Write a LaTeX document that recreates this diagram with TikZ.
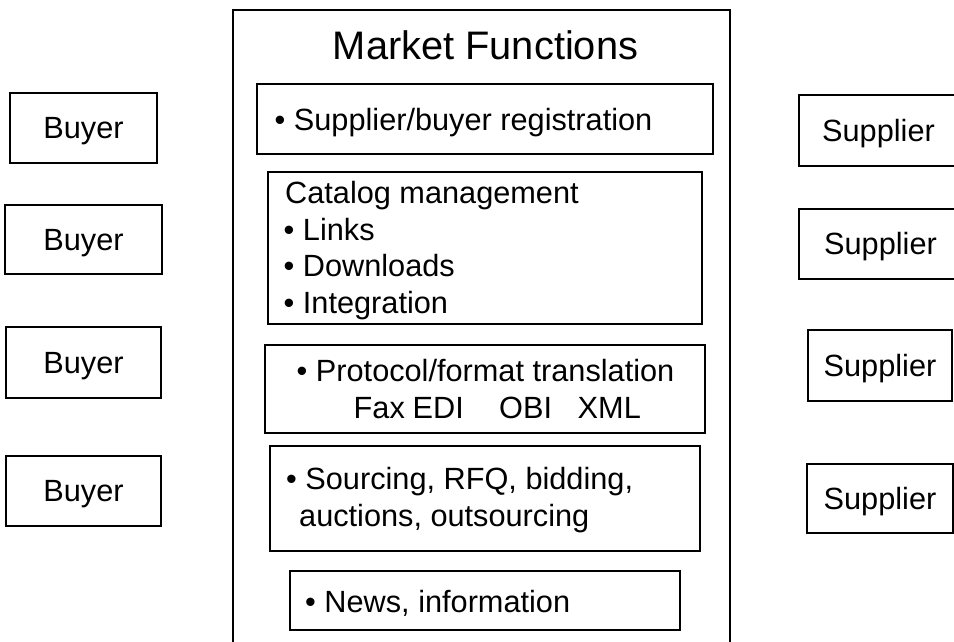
\documentclass[tikz,border=0pt]{standalone}
\usepackage{fontspec}
\setmainfont{Liberation Sans}
\newcommand{\bodyfont}{\fontsize{30.7}{36.5}\selectfont}
\begin{document}
\begin{tikzpicture}[x=1pt,y=-1pt,
  party/.style={draw, line width=1.6pt, inner sep=0pt, font=\bodyfont, text height=21.5pt, text depth=0pt},
  funcbox/.style={draw, line width=1.6pt, inner sep=0pt},
  frame/.style={draw, line width=1.8pt},
  txt/.style={anchor=base west, inner sep=0pt, font=\bodyfont, align=left},
]
\useasboundingbox (0,0) rectangle (954,641);
% buyers
\node[party, minimum width=147pt, minimum height=70pt] (b1) at (83.5,128) {Buyer};
\node[party, minimum width=157pt, minimum height=69pt] (b2) at (83.5,239.5) {Buyer};
\node[party, minimum width=155pt, minimum height=71pt] (b3) at (83.5,362.5) {Buyer};
\node[party, minimum width=155pt, minimum height=70pt] (b4) at (83.5,491) {Buyer};
% suppliers
\node[party, minimum width=159pt, minimum height=71pt] (s1) at (878.5,130.5) {Supplier};
\node[party, minimum width=163pt, minimum height=70pt] (s2) at (880.5,244) {Supplier};
\node[party, minimum width=144pt, minimum height=71pt] (s3) at (880,365.5) {Supplier};
\node[party, minimum width=146pt, minimum height=69pt] (s4) at (880,498.5) {Supplier};
% market frame
\node[frame, minimum width=497pt, minimum height=660pt, inner sep=0pt] (market) at (481.5,340) {};
\node[anchor=base, inner sep=0pt, font=\fontsize{39.8}{40}\selectfont] (title) at (485.5,59) {Market Functions};
% function boxes
\node[funcbox, minimum width=456pt, minimum height=70pt] (f1) at (485,119) {};
\node[funcbox, minimum width=434pt, minimum height=152pt] (f2) at (485,248) {};
\node[funcbox, minimum width=440pt, minimum height=88pt] (f3) at (485,389) {};
\node[funcbox, minimum width=430pt, minimum height=105pt] (f4) at (485,498.5) {};
\node[funcbox, minimum width=390pt, minimum height=59pt] (f5) at (485,600.5) {};
% texts
\node[txt] (t1) at (274.5,130) {• Supplier/buyer registration};
\node[txt] (t2a) at (285,203.5) {Catalog management};
\node[txt] (t2b) at (283.5,240) {• Links};
\node[txt] (t2c) at (283.5,276.5) {• Downloads};
\node[txt] (t2d) at (283.5,313) {• Integration};
\node[txt] (t3a) at (296.5,381) {• Protocol/format translation};
\node[txt] (t3b) at (353.5,418) {Fax};
\node[txt] (t3c) at (412.5,418) {EDI};
\node[txt] (t3d) at (499,418) {OBI};
\node[txt] (t3e) at (577.5,418) {XML};
\node[txt] (t4a) at (286,489) {• Sourcing, RFQ, bidding,};
\node[txt] (t4b) at (299,526) {auctions, outsourcing};
\node[txt] (t5) at (305,612) {• News, information};
\end{tikzpicture}
\end{document}
